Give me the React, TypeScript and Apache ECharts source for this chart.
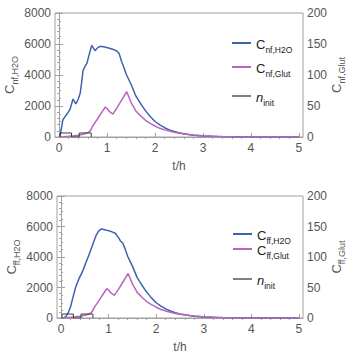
import React, { useEffect, useRef } from "react";
import * as echarts from "echarts";

// Rising parts (t in h, concentration on left axis)
const tRiseNf = [0.02, 0.05, 0.08, 0.12, 0.18, 0.23, 0.29, 0.35, 0.4, 0.44, 0.47, 0.5, 0.54, 0.58, 0.63, 0.68, 0.75, 0.8, 0.86, 0.95, 1.05, 1.13, 1.2, 1.25];
const cnfH2ORise = [0, 600, 1100, 1300, 1550, 1800, 2450, 2130, 2450, 2820, 3500, 4300, 4550, 4750, 5350, 5910, 5570, 5750, 5850, 5800, 5720, 5650, 5550, 5400];
const tRiseFf = [0.05, 0.1, 0.15, 0.2, 0.25, 0.31, 0.38, 0.45, 0.52, 0.6, 0.67, 0.74, 0.79, 0.84, 0.9, 0.99, 1.07, 1.14, 1.2, 1.25];
const cffH2ORise = [0, 85, 350, 740, 1350, 2050, 2600, 3040, 3600, 4240, 4850, 5440, 5700, 5840, 5800, 5730, 5650, 5560, 5300, 5050];
// Shared decay of the H2O concentration
const tDecay = [1.3, 1.35, 1.4, 1.5, 1.6, 1.7, 1.8, 1.9, 2.0, 2.1, 2.2, 2.3, 2.4, 2.5, 2.6, 2.7, 2.8, 3.0, 3.2, 3.4, 3.6, 3.8, 4.0, 4.5, 5.0];
const h2oDecay = [4900, 4500, 4050, 3400, 2650, 2150, 1700, 1320, 1000, 780, 600, 460, 350, 270, 210, 160, 120, 70, 42, 25, 15, 9, 5, 1.5, 0.5];
// Glut concentration (right axis)
const tGlut = [0, 0.1, 0.2, 0.3, 0.4, 0.5, 0.6, 0.65, 0.7, 0.8, 0.9, 0.96, 1.0, 1.05, 1.12, 1.2, 1.3, 1.41, 1.5, 1.6, 1.7, 1.8, 1.9, 2.0, 2.1, 2.2, 2.4, 2.6, 2.8, 3.0, 3.3, 3.6, 4.0, 4.5, 5.0];
const cGlut = [0, 0.5, 1.2, 2, 3, 4.5, 7, 10, 17.5, 29, 41, 48, 46, 41, 37, 46, 59, 73, 56, 42, 34, 27, 22, 17.7, 14, 11.5, 7.5, 5, 3.2, 2, 1, 0.5, 0.2, 0.07, 0.02];
// Dosing pulses n_init (right axis)
const tInit = [0.02, 0.02, 0.26, 0.26, 0.42, 0.42, 0.67, 0.67];
const nInit = [0, 6.5, 6.5, 0, 0, 6.5, 6.5, 0];

const xTicks = [0, 1, 2, 3, 4, 5];
const xMinorTicks = [0.2, 0.4, 0.6, 0.8, 1.2, 1.4, 1.6, 1.8, 2.2, 2.4, 2.6, 2.8, 3.2, 3.4, 3.6, 3.8, 4.2, 4.4, 4.6, 4.8];

const zip = (t: number[], v: number[]) => t.map((x, i) => [x, v[i]]);

const BLUE = "#3C63AD";
const MAGENTA = "#B964BF";
const DARK = "#3a3a3a";
const AXIS = "#a0a0a0";
const LABEL = "#555";
const FONT = "'Liberation Sans', Arial, sans-serif";

const rich = {
  c: { fontSize: 13, fontFamily: FONT, color: "#222", lineHeight: 16, verticalAlign: "bottom" },
  ci: { fontSize: 13, fontFamily: FONT, fontStyle: "italic", color: "#222", lineHeight: 16, verticalAlign: "bottom" },
  s: { fontSize: 8.5, fontFamily: FONT, color: "#222", lineHeight: 11, verticalAlign: "bottom", padding: [0, 0, -3, 0] },
};
const axRich = {
  c: { fontSize: 13, fontFamily: FONT, color: LABEL, lineHeight: 16, verticalAlign: "bottom" },
  s: { fontSize: 9, fontFamily: FONT, color: LABEL, lineHeight: 11, verticalAlign: "bottom", padding: [0, 0, -3, 0] },
};

const legendText: Record<string, string> = {
  "Cnf,H2O": "{c|C}{s|nf,H2O}",
  "Cnf,Glut": "{c|C}{s|nf,Glut}",
  ninit1: "{ci|n}{s|init}",
  "Cff,H2O": "{c|C}{s|ff,H2O}",
  "Cff,Glut": "{c|C}{s|ff,Glut}",
  ninit2: "{ci|n}{s|init}",
};

export default function App() {
  const ref = useRef<HTMLDivElement>(null);
  useEffect(() => {
    if (!ref.current) return;
    const chart = echarts.init(ref.current, undefined, { renderer: "svg" });

    const grids = [
      { left: 55, right: 48, top: 13, height: 124 },
      { left: 57, right: 48, top: 196, height: 122 },
    ];
    const mainX = grids.map((_, i) => ({
      type: "value",
      gridIndex: i,
      min: -0.085,
      max: 5.085,
      splitLine: { show: false },
      axisLine: { show: true, lineStyle: { color: AXIS } },
      axisTick: { show: true, inside: true, length: 4, customValues: xTicks, lineStyle: { color: AXIS } },
      axisLabel: { customValues: xTicks, color: LABEL, fontSize: 12, fontFamily: FONT, margin: 5, formatter: (v: number) => String(v) },
      name: "t/h",
      nameLocation: "middle",
      nameGap: 23,
      nameMoveOverlap: false,
      nameTextStyle: { color: LABEL, fontSize: 12, fontFamily: FONT },
    }));
    const minorX = grids.map((_, i) => ({
      type: "value",
      gridIndex: i,
      min: -0.085,
      max: 5.085,
      splitLine: { show: false },
      axisLine: { show: false },
      axisTick: { show: true, inside: true, length: 2, customValues: xMinorTicks, lineStyle: { color: AXIS } },
      axisLabel: { show: false },
    }));
    const yAxes: any[] = [];
    const names = [
      ["{c|C}{s|nf,H2O}", "{c|C}{s|nf,Glut}"],
      ["{c|C}{s|ff,H2O}", "{c|C}{s|ff,Glut}"],
    ];
    grids.forEach((_, i) => {
      yAxes.push({
        type: "value",
        gridIndex: i,
        position: "left",
        min: 0,
        max: 8000,
        interval: 2000,
        splitLine: { show: false },
        axisLine: { show: true, lineStyle: { color: AXIS } },
        axisTick: { show: true, inside: true, length: 4, lineStyle: { color: AXIS } },
        minorTick: { show: true, splitNumber: 4, length: 2, lineStyle: { color: AXIS } },
        axisLabel: { color: LABEL, fontSize: 12, fontFamily: FONT, margin: 4, formatter: (v: number) => String(v) },
        name: names[i][0],
        nameLocation: "middle",
        nameRotate: 90,
        nameGap: 39,
        nameMoveOverlap: false,
        nameTextStyle: { rich: axRich },
      });
      yAxes.push({
        type: "value",
        gridIndex: i,
        position: "right",
        min: 0,
        max: 200,
        interval: 50,
        splitLine: { show: false },
        axisLine: { show: true, lineStyle: { color: AXIS } },
        axisTick: { show: true, inside: true, length: 4, lineStyle: { color: AXIS } },
        minorTick: { show: true, splitNumber: 5, length: 2, lineStyle: { color: AXIS } },
        axisLabel: { color: LABEL, fontSize: 12, fontFamily: FONT, margin: 4, formatter: (v: number) => String(v) },
        name: names[i][1],
        nameLocation: "middle",
        nameRotate: 90,
        nameGap: 24,
        nameMoveOverlap: false,
        nameTextStyle: { rich: axRich },
      });
    });

    const line = (name: string, data: number[][], xi: number, yi: number, color: string, width: number) => ({
      type: "line",
      name,
      data,
      xAxisIndex: xi,
      yAxisIndex: yi,
      showSymbol: false,
      symbol: "none",
      lineStyle: { color, width },
      itemStyle: { color },
      z: 3,
    });

    const series = [
      line("Cnf,H2O", [...zip(tRiseNf, cnfH2ORise), ...zip(tDecay, h2oDecay)], 0, 0, BLUE, 1.5),
      line("Cnf,Glut", zip(tGlut, cGlut), 0, 1, MAGENTA, 1.5),
      line("ninit1", zip(tInit, nInit), 0, 1, DARK, 1),
      line("Cff,H2O", [...zip(tRiseFf, cffH2ORise), ...zip(tDecay, h2oDecay)], 1, 2, BLUE, 1.5),
      line("Cff,Glut", zip(tGlut, cGlut), 1, 3, MAGENTA, 1.5),
      line("ninit2", zip(tInit, nInit), 1, 3, DARK, 1),
    ];

    const legendPos: [string, number, number, string][] = [
      ["Cnf,H2O", 232, 46, BLUE],
      ["Cnf,Glut", 232, 70, MAGENTA],
      ["ninit1", 232, 99, "#808080"],
      ["Cff,H2O", 233, 237, BLUE],
      ["Cff,Glut", 233, 252, MAGENTA],
      ["ninit2", 233, 282, "#808080"],
    ];
    const legends = legendPos.map(([name, x, y, color]) => ({
      show: true,
      left: x,
      top: y - 8,
      padding: 0,
      orient: "vertical",
      icon: "rect",
      itemWidth: 19,
      itemHeight: 2,
      selectedMode: false,
      data: [{ name, itemStyle: { color } }],
      formatter: (n: string) => legendText[n],
      textStyle: { rich },
    }));

    chart.setOption({
      animation: false,
      grid: grids.map((g) => ({ ...g, show: true, borderColor: AXIS, borderWidth: 1, containLabel: false, outerBoundsMode: "none" })),
      xAxis: [...mainX, ...minorX],
      yAxis: yAxes,
      legend: legends,
      series,
    });
    return () => chart.dispose();
  }, []);
  return <div ref={ref} style={{ width: 351, height: 355, position: "absolute", left: 0, top: 0 }} />;
}
